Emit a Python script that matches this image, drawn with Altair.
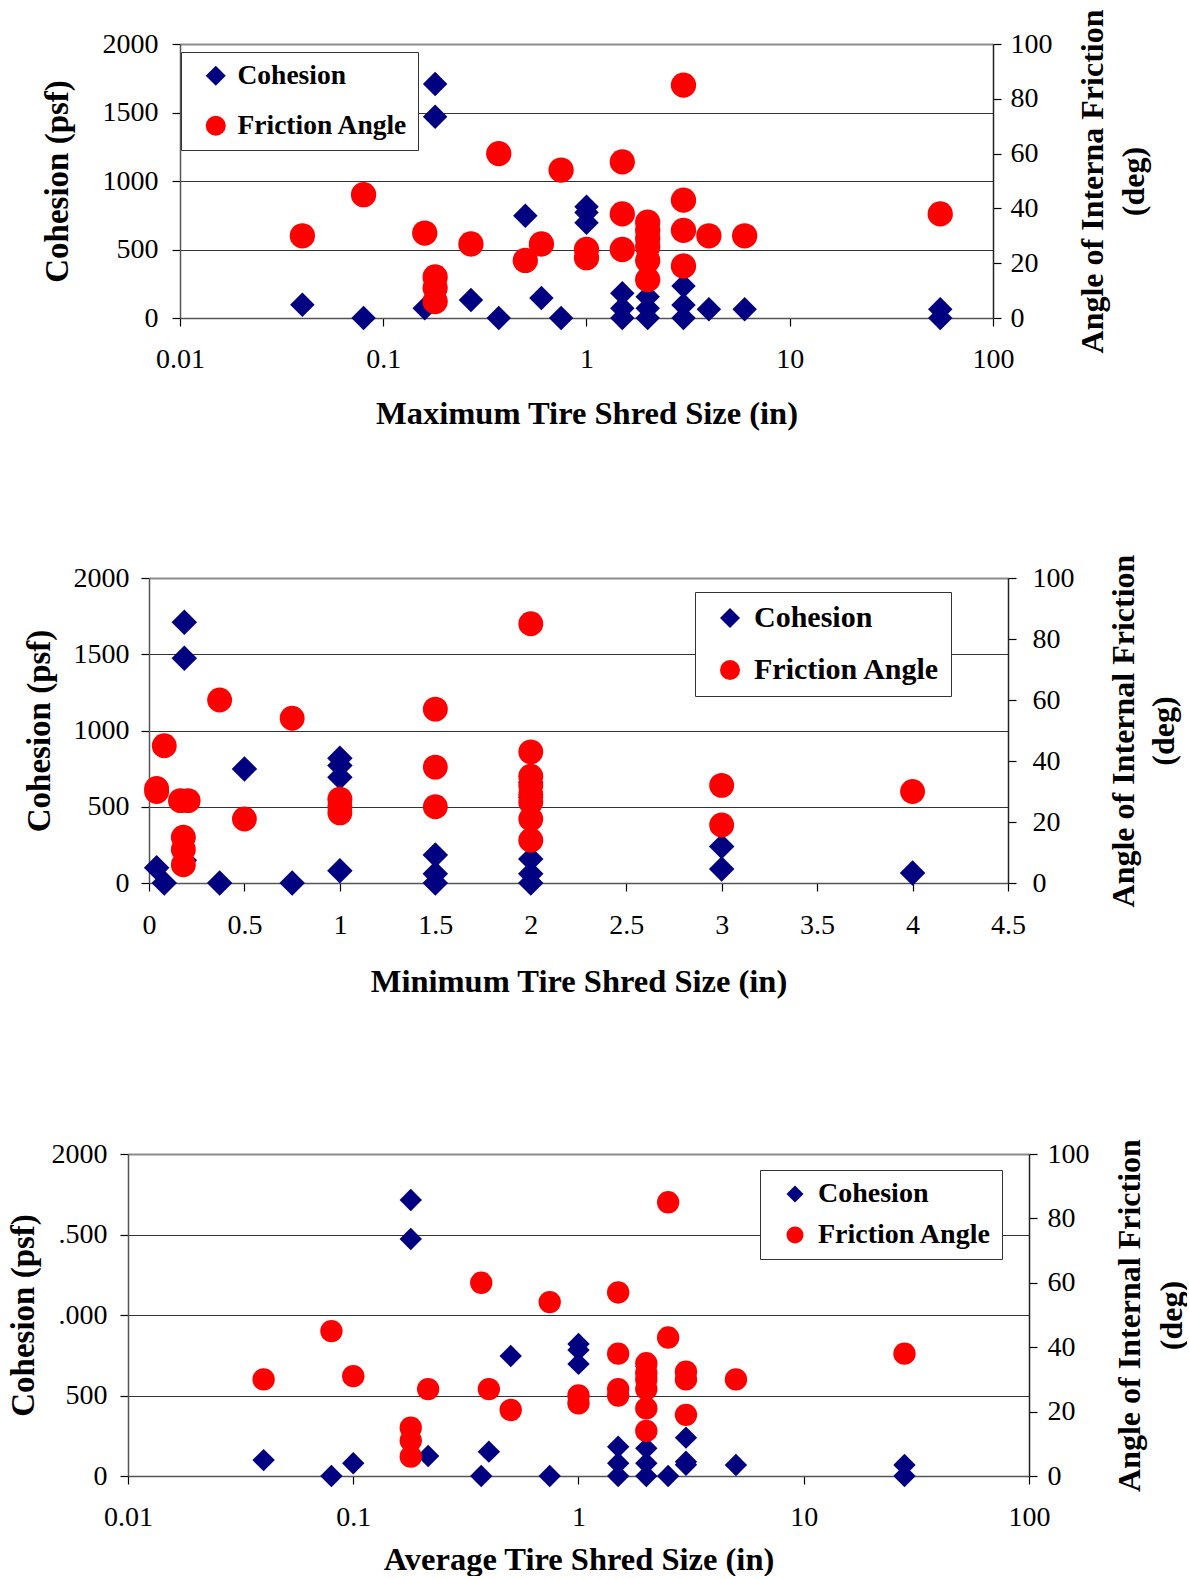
import altair as alt
import pandas as pd

FONT = "Liberation Serif"
NAVY = "#000080"
RED = "#FF0000"
SERIES = ["Cohesion", "Friction Angle"]

# ---------------- Panel 1: maximum tire shred size ----------------
coh_x1 = [0.04, 0.08, 0.16, 0.18, 0.18, 0.27, 0.37, 0.5, 0.6, 0.75, 1, 1, 1,
          1.5, 1.5, 1.5, 2, 2, 2, 2, 2, 3, 3, 3, 4, 6, 55, 55]
coh_y1 = [97, 0, 71, 1708, 1469, 131, 0, 747, 146, 0, 812, 770, 696,
          180, 71, 0, 650, 560, 156, 71, 0, 234, 95, 0, 63, 63, 63, 0]
fr_x1 = [0.04, 0.08, 0.16, 0.18, 0.18, 0.18, 0.27, 0.37, 0.5, 0.6, 0.75, 1, 1,
         1.5, 1.5, 1.5, 2, 2, 2, 2, 2, 2, 3, 3, 3, 3, 4, 6, 55]
fr_y1 = [30, 45, 31, 15, 11, 6, 27, 60, 21, 27, 54, 25, 22,
         57, 38, 25, 35, 32, 29, 26, 21, 14, 85, 43, 32, 19, 30, 30, 38]

# ---------------- Panel 2: minimum tire shred size ----------------
coh_x2 = [0.04, 0.08, 0.185, 0.185, 0.185, 0.37, 0.5, 0.75, 1, 1, 1, 1,
          1.5, 1.5, 1.5, 2, 2, 2, 2, 2, 3, 3, 4]
coh_y2 = [100, 0, 1710, 1473, 150, 0, 748, 0, 818, 770, 693, 81,
          184, 61, 0, 660, 560, 157, 61, 0, 240, 92, 66]
fr_x2 = [0.04, 0.04, 0.08, 0.165, 0.205, 0.18, 0.18, 0.18, 0.37, 0.5, 0.75, 1, 1, 1,
         1.5, 1.5, 1.5, 2, 2, 2, 2, 2, 2, 2, 2, 3, 3, 4]
fr_y2 = [31, 30, 45, 27, 27, 15, 11, 6, 60, 21, 54, 27.5, 25, 23,
         57, 38, 25, 85, 43, 35, 32, 29, 26.5, 21, 14, 32, 19, 30]

# ---------------- Panel 3: average tire shred size ----------------
coh_x3 = [0.04, 0.08, 0.1, 0.18, 0.18, 0.215, 0.37, 0.4, 0.5, 0.745, 1, 1, 1,
          1.5, 1.5, 1.5, 2, 2, 2, 2, 2.5, 3, 3, 3, 5, 28, 28]
coh_y3 = [99, 0, 79, 1714, 1472, 124, 0, 151, 745, 0, 820, 783, 696,
          182, 79, 0, 680, 172, 79, 0, 0, 238, 89, 70, 68, 68, 0]
fr_x3 = [0.04, 0.08, 0.1, 0.18, 0.18, 0.18, 0.215, 0.37, 0.4, 0.5, 0.745, 1, 1,
         1.5, 1.5, 1.5, 1.5, 2, 2, 2, 2, 2, 2, 2.5, 2.5, 3, 3, 3, 5, 28]
fr_y3 = [30, 45, 31, 15, 11, 6, 27, 60, 27, 20.5, 54, 25, 22.6,
         57, 38, 27, 25, 35, 32, 30, 27, 21, 14, 85, 43, 32.4, 30, 19, 30, 38]

LOG_TICKS = [0.01, 0.1, 1, 10, 100]
LIN_TICKS = [0, 0.5, 1, 1.5, 2, 2.5, 3, 3.5, 4, 4.5]
COH_TICKS = [0, 500, 1000, 1500, 2000]
FR_TICKS = [0, 20, 40, 60, 80, 100]


def spacer(w, h):
    return alt.Chart(pd.DataFrame({"s": [0]})).mark_point(opacity=0).encode(
        x=alt.X("s:Q", axis=None), y=alt.Y("s:Q", axis=None)
    ).properties(width=w, height=h)


def panel(cx, cy, fx, fy, xtype, xdomain, xvalues, xtitle, rtitle, w, h,
          dsize, csize, leg, ax, ylabel_expr="datum.label"):
    dc = pd.DataFrame({"x": cx, "val": cy, "series": SERIES[0]})
    dfr = pd.DataFrame({"x": fx, "val": fy, "series": SERIES[1]})

    xenc = alt.X(
        "x:Q",
        scale=alt.Scale(type=xtype, domain=xdomain, nice=False, zero=False),
        axis=alt.Axis(values=xvalues, format="~g", title=xtitle, grid=False,
                      labelPadding=ax["xlp"], titlePadding=ax["xtp"],
                      domainColor="#555", domainWidth=1.5, labelFlush=False,
                      titleFontSize=32.5),
    )
    legend = alt.Legend(
        title=None, orient="none", legendX=leg["x"], legendY=leg["y"],
        labelFont=FONT, labelFontSize=leg["fs"], labelFontWeight="bold",
        labelColor="black", symbolSize=leg["ss"], rowPadding=leg["rp"],
        padding=leg["pad"], symbolOffset=leg["so"], labelOffset=leg["lo"],
        strokeColor="#333", fillColor="white", symbolStrokeWidth=0,
        labelLimit=500,
        labelExpr="datum.label + '" + leg["trail"] + "'",
    )
    color = alt.Color("series:N", scale=alt.Scale(domain=SERIES, range=[NAVY, RED]),
                      legend=legend)
    shape = alt.Shape("series:N", scale=alt.Scale(domain=SERIES, range=["diamond", "circle"]),
                      legend=legend)

    left_axis = alt.Axis(
        values=COH_TICKS, title="Cohesion (psf)", grid=True, format="d",
        gridColor={"condition": {"test": "datum.value == 2000", "value": "#8c8c8c"}, "value": "#333"},
        gridWidth={"condition": {"test": "datum.value == 2000", "value": 2}, "value": 1},
        labelPadding=ax["llp"], titlePadding=ax["ltp"], titleFontSize=33,
        domainColor="#555", domainWidth=1.5, labelExpr=ylabel_expr,
    )
    right_axis = alt.Axis(
        values=FR_TICKS, title=rtitle, orient="right", grid=False, titleAngle=270,
        labelPadding=ax["rlp"], titlePadding=ax["rtp"], titleLineHeight=ax["rlh"],
        titleFontSize=32, domainColor="#222", domainWidth=1.5, format="d",
    )

    coh = alt.Chart(dc).mark_point(filled=True, opacity=1, size=dsize, strokeWidth=0).encode(
        x=xenc,
        y=alt.Y("val:Q", scale=alt.Scale(domain=[0, 2000], nice=False), axis=left_axis),
        color=color, shape=shape,
    )
    fr = alt.Chart(dfr).mark_point(filled=True, opacity=1, size=csize, strokeWidth=0).encode(
        x=xenc,
        y=alt.Y("val:Q", scale=alt.Scale(domain=[0, 100], nice=False), axis=right_axis),
        color=color, shape=shape,
    )
    return alt.layer(coh, fr).resolve_scale(y="independent").properties(width=w, height=h)


p1 = panel(coh_x1, coh_y1, fr_x1, fr_y1, "log", [0.01, 100], LOG_TICKS,
           "Maximum Tire Shred Size (in)", ["Angle of Interna Friction", "(deg)"],
           813, 274, 600, 640,
           dict(x=1, y=8, fs=27.5, ss=400, rp=21, pad=10, so=11, lo=8, trail="   "),
           dict(xlp=19, xtp=24, llp=14, ltp=28, rlp=9, rtp=16, rlh=41))
p2 = panel(coh_x2, coh_y2, fr_x2, fr_y2, "linear", [0, 4.5], LIN_TICKS,
           "Minimum Tire Shred Size (in)", ["Angle of Internal Friction", "(deg)"],
           859, 305, 650, 620,
           dict(x=546, y=14, fs=30, ss=400, rp=22, pad=11, so=9, lo=9, trail="   "),
           dict(xlp=20, xtp=26, llp=12, ltp=17, rlp=16, rtp=26, rlh=40))
p3 = panel(coh_x3, coh_y3, fr_x3, fr_y3, "log", [0.01, 100], LOG_TICKS,
           "Average Tire Shred Size (in)", ["Angle of Internal Friction", "(deg)"],
           901, 322, 500, 500,
           dict(x=632, y=16, fs=28, ss=289, rp=13, pad=10, so=11, lo=9, trail=""),
           dict(xlp=19, xtp=12, llp=13, ltp=11, rlp=10, rtp=15, rlh=42),
           ylabel_expr="datum.value == 1500 ? '.500' : (datum.value == 1000 ? '.000' : datum.label)")


def row(w, p):
    return alt.hconcat(spacer(w, 1), p, spacing=0).resolve_scale(
        color="independent", shape="independent").resolve_legend(
        color="independent", shape="independent")


chart = alt.vconcat(
    row(38, p1), spacer(1, 124), row(20, p2), spacer(1, 140), row(1, p3),
    spacing=0,
).resolve_scale(color="independent", shape="independent").resolve_legend(
    color="independent", shape="independent"
).properties(
    padding={"left": 0, "top": 9, "right": 0, "bottom": 0},
    background="white",
).configure_view(stroke=None).configure_axis(
    labelFont=FONT, labelFontSize=28, labelColor="black",
    titleFont=FONT, titleFontSize=32.5, titleFontWeight="bold", titleColor="black",
    tickColor="black", tickSize=8, tickWidth=1.2,
)

chart.save("out.html", embed_options={"renderer": "svg", "actions": False})
